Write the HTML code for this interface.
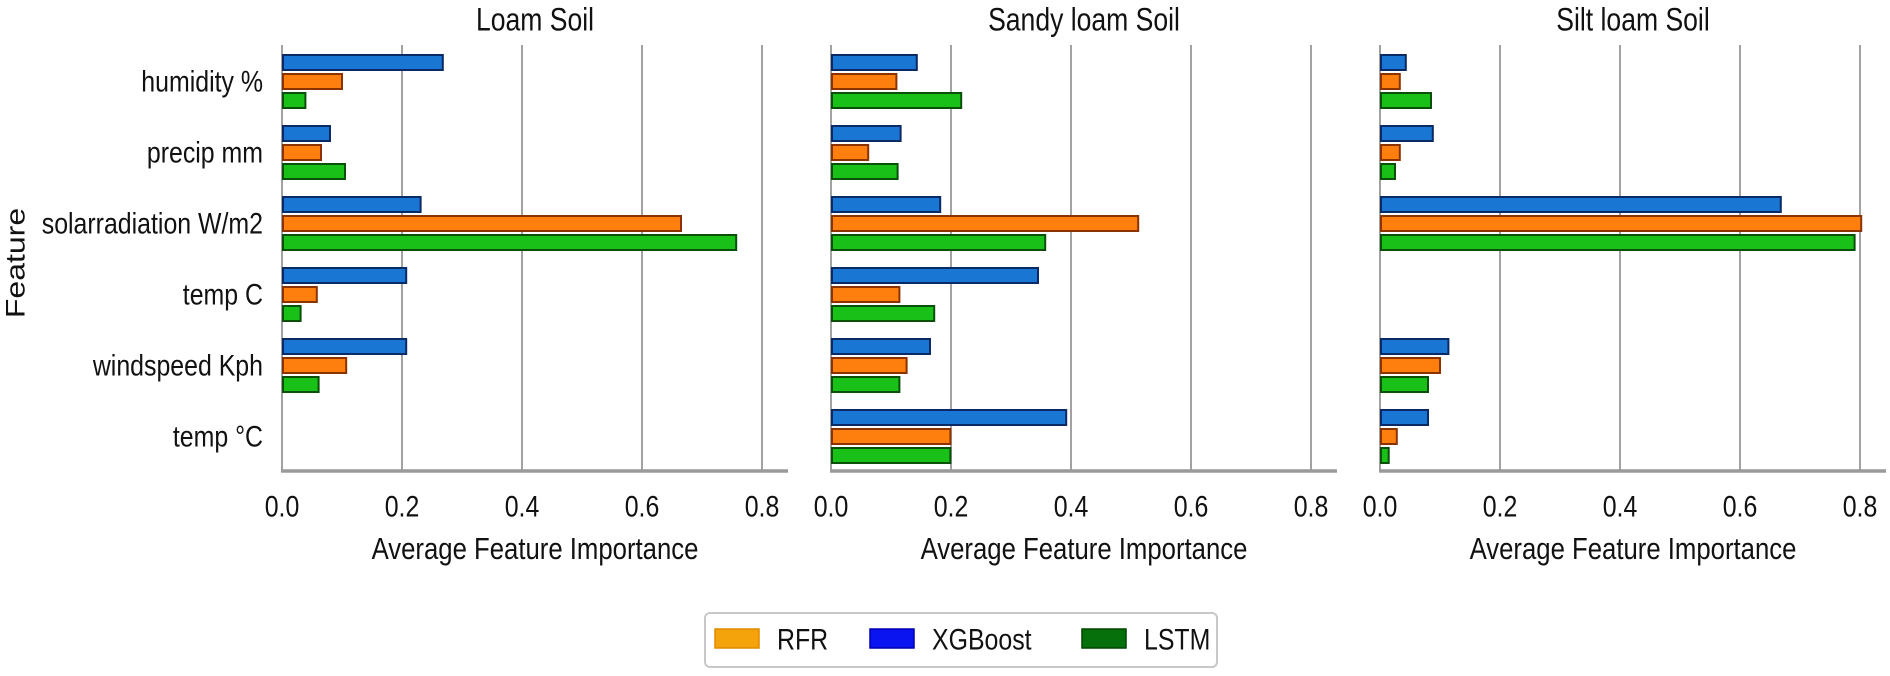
<!DOCTYPE html>
<html>
<head>
<meta charset="utf-8">
<style>
html,body{margin:0;padding:0;background:#fff;}
svg{display:block;}
text{font-family:"Liberation Sans",sans-serif;fill:#111;}
</style>
</head>
<body>
<svg id="chart" width="1890" height="676" viewBox="0 0 1890 676" xmlns="http://www.w3.org/2000/svg"></svg>
<script>
const categories = ["humidity %", "precip mm", "solarradiation W/m2", "temp C", "windspeed Kph", "temp °C"];
const panels = ["Loam Soil", "Sandy loam Soil", "Silt loam Soil"];
const xTicks = [0, 0.2, 0.4, 0.6, 0.8];
const xTickLabels = ["0.0", "0.2", "0.4", "0.6", "0.8"];
const seriesNames = ["XGBoost", "RFR", "LSTM"];
// values per panel, per category
const loamXGB  = [0.268, 0.080, 0.231, 0.207, 0.207, 0];
const loamRFR  = [0.100, 0.065, 0.665, 0.058, 0.107, 0];
const loamLSTM = [0.039, 0.105, 0.757, 0.031, 0.061, 0];
const sandyXGB  = [0.143, 0.116, 0.182, 0.345, 0.165, 0.392];
const sandyRFR  = [0.109, 0.062, 0.512, 0.114, 0.126, 0.199];
const sandyLSTM = [0.217, 0.111, 0.357, 0.172, 0.114, 0.199];
const siltXGB  = [0.043, 0.088, 0.668, 0, 0.114, 0.080];
const siltRFR  = [0.033, 0.033, 0.802, 0, 0.100, 0.028];
const siltLSTM = [0.085, 0.025, 0.791, 0, 0.080, 0.0145];

const panelData = [[loamXGB, loamRFR, loamLSTM],[sandyXGB, sandyRFR, sandyLSTM],[siltXGB, siltRFR, siltLSTM]];
const fills = ["#1976d2", "#ff7f0e", "#18c018"];
const edges = ["#0a2a66", "#8a3300", "#0a4f0a"];

const NS = "http://www.w3.org/2000/svg";
const svg = document.getElementById("chart");
function mk(tag, attrs, parent){const e=document.createElementNS(NS,tag);for(const k in attrs)e.setAttribute(k,attrs[k]);(parent||svg).appendChild(e);return e;}

const panelX0 = [282, 831, 1380];
const pxPerUnit = 600;
const axTop = 45, axBottom = 471, axWidth = 506;
const rowStep = 71, firstBlueTop = 55, barH = 15, barStep = 19;
function xScale(p, v){return panelX0[p] + v*pxPerUnit;}
function rowTop(i){return firstBlueTop + i*rowStep;}
const cond = 0.83;

function condText(x, y, str, size, anchor, name){
  const g = mk("g", {transform:`translate(${x},${y}) scale(${cond},1)`});
  const t = mk("text", {x:0, y:0, "font-size":size, "text-anchor":anchor, "dominant-baseline":"central"}, g);
  t.textContent = str;
  
  
  return t;
}

panels.forEach((title, p) => {
  const g = mk("g", {});
  
  
  // gridlines
  xTicks.forEach((t, k) => {
    if (k > 0) {
      const l = mk("line", {x1:xScale(p,t), x2:xScale(p,t), y1:axTop, y2:axBottom, stroke:"#8a8a8a", "stroke-width":1.6}, g);
      
      
    }
    condText(xScale(p,t), 506, xTickLabels[k], 30, "middle", "x-tick-label");
  });
  // left spine
  const ls = mk("line", {x1:panelX0[p], x2:panelX0[p], y1:axTop, y2:axBottom, stroke:"#8a8a8a", "stroke-width":1.6}, g);
  
  
  // bars
  panelData[p].forEach((vals, s) => {
    vals.forEach((v, i) => {
      if (v <= 0) return;
      const r = mk("rect", {x:xScale(p,0)+1, y:rowTop(i)+s*barStep, width:Math.max(1, xScale(p,v)-xScale(p,0)-1), height:barH, fill:fills[s], stroke:edges[s], "stroke-width":2}, g);
      
      
    });
  });
  // bottom spine
  const bs = mk("line", {x1:panelX0[p]-1, x2:panelX0[p]+axWidth, y1:axBottom, y2:axBottom, stroke:"#9a9a9a", "stroke-width":3.5}, g);
  
  
  condText(panelX0[p]+253, 20, title, 32, "middle", "panel-title");
  condText(panelX0[p]+253, 549, "Average Feature Importance", 31, "middle", "x-axis-title");
});

categories.forEach((c, i) => {
  condText(263, rowTop(i)+26, c, 30, "end", "y-tick-label");
});

const fl = mk("text", {x:0, y:0, "font-size":32, "text-anchor":"middle", "dominant-baseline":"central", transform:"translate(16,263) rotate(-90) scale(1,0.85)"});
fl.textContent = "Feature";



// legend
const lg = mk("g", {});


const box = mk("rect", {x:705, y:613, width:512, height:54, rx:5, fill:"#fff", stroke:"#c8c8c8", "stroke-width":2}, lg);


const legNames = ["RFR", "XGBoost", "LSTM"];
const legFill = ["#f5a30a", "#0a14f0", "#06700a"];
const legEdge = ["#e08a00", "#0000b0", "#004400"];
const legSwX = [715, 870, 1082];
legNames.forEach((n, k) => {
  const r = mk("rect", {x:legSwX[k], y:629, width:44, height:19, fill:legFill[k], stroke:legEdge[k], "stroke-width":1.5}, lg);
  
  
  condText(legSwX[k]+62, 639, n, 30, "start", "legend-entry");
});
</script>
</body>
</html>
